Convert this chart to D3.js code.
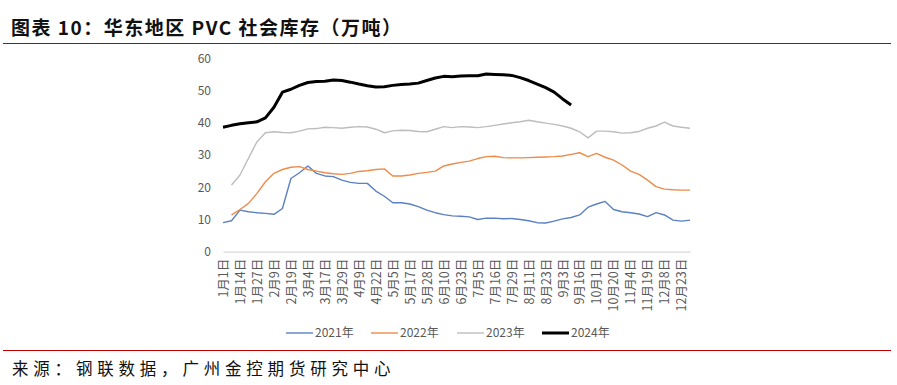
<!DOCTYPE html>
<html>
<head>
<meta charset="utf-8">
<script src="https://cdn.jsdelivr.net/npm/d3@7"></script>
<style>
  body { margin: 0; background: #fff; }
  svg { display: block; }
  text { font-family: "Noto Sans CJK SC", "Noto Sans", sans-serif; }
</style>
</head>
<body>
<svg id="chart" width="897" height="385"></svg>
<script>
// categories (weekly dates, every second one is labelled)
const dates = ["1月1日","1月7日","1月14日","1月21日","1月27日","2月3日","2月9日","2月14日",
  "2月19日","2月25日","3月4日","3月11日","3月17日","3月24日","3月29日","4月2日",
  "4月9日","4月16日","4月22日","4月29日","5月5日","5月11日","5月17日","5月21日",
  "5月28日","6月3日","6月10日","6月17日","6月23日","6月30日","7月5日","7月9日",
  "7月16日","7月22日","7月29日","8月5日","8月11日","8月17日","8月23日","8月30日",
  "9月3日","9月9日","9月16日","9月23日","10月1日","10月14日","10月20日","10月28日",
  "11月4日","11月11日","11月19日","11月25日","12月8日","12月16日","12月23日","12月30日"];

const y2021 = [9.0,9.6,12.9,12.4,12.1,11.9,11.6,13.4,22.7,24.5,26.6,24.3,23.5,23.3,22.2,21.5,
  21.2,21.2,18.8,17.2,15.2,15.2,14.8,14.0,12.9,12.1,11.5,11.1,11.0,10.8,10.0,10.4,
  10.4,10.2,10.3,10.0,9.6,9.0,8.9,9.5,10.2,10.6,11.4,13.8,14.8,15.6,13.1,12.4,
  12.1,11.7,10.9,12.1,11.4,9.8,9.5,9.8];

const y2022 = [null,11.4,13.1,15.0,18.1,21.7,24.3,25.5,26.2,26.4,25.5,25.0,24.5,24.2,24.0,24.3,
  24.9,25.1,25.5,25.7,23.5,23.5,23.8,24.3,24.6,25.0,26.6,27.2,27.7,28.1,28.9,29.5,
  29.6,29.2,29.1,29.1,29.2,29.3,29.4,29.5,29.7,30.2,30.7,29.5,30.5,29.3,28.4,26.9,
  25.0,24.0,22.2,20.2,19.4,19.2,19.1,19.1];

const y2023 = [null,20.7,23.8,29.0,34.1,36.9,37.2,37.0,36.9,37.4,38.1,38.2,38.6,38.5,38.3,38.6,
  38.8,38.7,38.0,36.9,37.5,37.7,37.6,37.3,37.2,38.0,38.8,38.5,38.8,38.7,38.5,38.8,
  39.2,39.6,40.0,40.3,40.8,40.3,39.9,39.5,39.0,38.3,37.2,35.3,37.4,37.4,37.2,36.8,
  36.9,37.3,38.3,39.0,40.2,39.0,38.6,38.3];

const y2024 = [38.6,39.2,39.7,40.0,40.3,41.5,44.8,49.5,50.4,51.6,52.5,52.8,52.9,53.3,53.1,52.6,
  52.0,51.5,51.1,51.2,51.6,51.9,52.0,52.3,53.1,53.9,54.4,54.3,54.5,54.6,54.6,55.1,
  55.0,54.9,54.7,54.0,53.1,52.0,50.9,49.5,47.4,45.5];

const yTicks = [0,10,20,30,40,50,60];

const series = [
  {name: "2021年", values: y2021, color: "#5B80C4", width: 1.4},
  {name: "2022年", values: y2022, color: "#ED8C4A", width: 1.4},
  {name: "2023年", values: y2023, color: "#BDBDBD", width: 1.4},
  {name: "2024年", values: y2024, color: "#000000", width: 3}
];

const svg = d3.select("#chart");

// title and frame lines
svg.append("text")
  .attr("x", 11).attr("y", 35)
  .attr("font-size", 19).attr("font-weight", "bold")
  .attr("letter-spacing", 1.5)
  .attr("fill", "#111")
  .text("图表 10：华东地区 PVC 社会库存（万吨）");

svg.append("line")
  .attr("x1", 3).attr("x2", 891).attr("y1", 43.5).attr("y2", 43.5)
  .attr("stroke", "#C00000").attr("stroke-width", 1.2);
svg.append("line")
  .attr("x1", 3).attr("x2", 891).attr("y1", 350.5).attr("y2", 350.5)
  .attr("stroke", "#C00000").attr("stroke-width", 1.2);

svg.append("text")
  .attr("x", 12).attr("y", 375)
  .attr("font-size", 16.5)
  .attr("letter-spacing", 4.8)
  .attr("fill", "#111")
  .text("来源：钢联数据，广州金控期货研究中心");

// scales
const x = d3.scalePoint().domain(dates).range([223, 690]);
const y = d3.scaleLinear().domain([0, 60]).range([251.7, 58.3]);

// y axis (labels only)
const yAxis = svg.append("g")
  .attr("transform", "translate(214,0)")
  .call(d3.axisLeft(y).tickValues(yTicks).tickSize(0));
yAxis.select(".domain").remove();
yAxis.selectAll("text")
  .attr("font-size", 12).attr("fill", "#595959")
  .attr("font-family", "\"Noto Sans CJK SC\", sans-serif");

// x axis
const xAxis = svg.append("g")
  .attr("transform", `translate(0,${y(0)})`)
  .call(d3.axisBottom(x).tickValues(dates.filter((d, i) => i % 2 === 0)).tickSize(0));
xAxis.select(".domain").attr("stroke", "#D9D9D9").attr("stroke-width", 1.2);
xAxis.selectAll("text")
  .attr("font-size", 12.5).attr("fill", "#595959")
  .attr("font-family", "\"Noto Sans CJK SC\", sans-serif")
  .attr("transform", "rotate(-90)")
  .attr("text-anchor", "end")
  .attr("x", -7).attr("y", 0).attr("dy", "0.35em");

// lines
const line = d3.line()
  .defined(d => d != null)
  .x((d, i) => x(dates[i]))
  .y(d => y(d));

svg.selectAll(".series")
  .data(series)
  .enter()
  .append("path")
    .attr("fill", "none")
    .attr("stroke", d => d.color)
    .attr("stroke-width", d => d.width)
    .attr("stroke-linejoin", "round")
    .attr("d", d => line(d.values));

// legend
const legendX = [286, 371, 457, 542];
const legend = svg.selectAll(".legend")
  .data(series)
  .enter()
  .append("g")
    .attr("transform", (d, i) => `translate(${legendX[i]},333)`);
legend.append("line")
  .attr("x1", 0).attr("x2", 27)
  .attr("stroke", d => d.color)
  .attr("stroke-width", d => d.width);
legend.append("text")
  .attr("x", 29).attr("dy", "0.35em")
  .attr("font-size", 12).attr("fill", "#595959")
  .text(d => d.name);
</script>
</body>
</html>
